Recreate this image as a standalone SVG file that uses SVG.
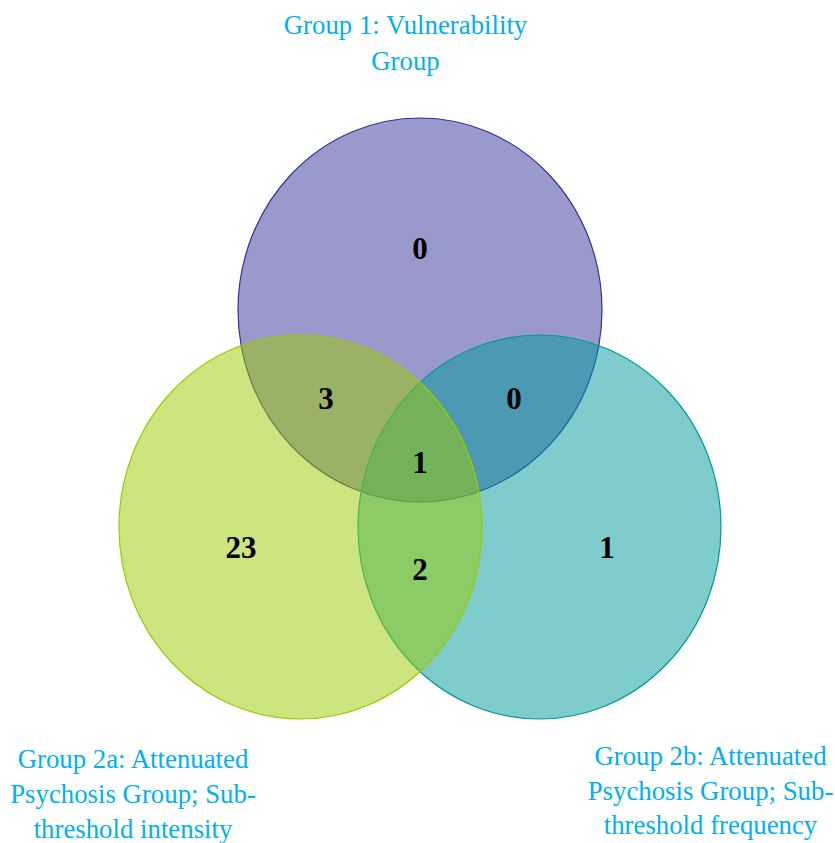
<svg xmlns="http://www.w3.org/2000/svg" width="835" height="843" viewBox="0 0 835 843">
<style>
.lbl{font-family:"Liberation Serif","Times New Roman",serif;font-size:26.8px;fill:#00b0f0;text-anchor:middle}
.num{font-family:"Liberation Serif","Times New Roman",serif;font-size:31px;font-weight:bold;fill:#000;text-anchor:middle}
.set{stroke-width:1.2}
</style>
<rect width="835" height="843" fill="#fff"/>
<g id="set-group1"><ellipse class="set" cx="420" cy="310" rx="182" ry="192" fill="#333399" fill-opacity="0.5" stroke="#333399"/></g>
<g id="set-group2b"><ellipse class="set" cx="539.5" cy="527" rx="181.5" ry="192" fill="#009999" fill-opacity="0.5" stroke="#009999"/></g>
<g id="set-group2a"><ellipse class="set" cx="300.5" cy="527" rx="181.5" ry="192" fill="#99cc00" fill-opacity="0.5" stroke="#99cc00"/></g>
<g id="connectors"></g>
<g id="labels">
<text class="lbl" x="405.5" y="34">Group 1: Vulnerability</text>
<text class="lbl" x="405.5" y="70">Group</text>
<text class="lbl" x="133" y="768">Group 2a: Attenuated</text>
<text class="lbl" x="133" y="803">Psychosis Group; Sub-</text>
<text class="lbl" x="133" y="838">threshold intensity</text>
<text class="lbl" x="710.5" y="765">Group 2b: Attenuated</text>
<text class="lbl" x="710.5" y="800">Psychosis Group; Sub-</text>
<text class="lbl" x="710.5" y="834">threshold frequency</text>
</g>
<g id="counts">
<text class="num" x="420" y="259">0</text>
<text class="num" x="326" y="409">3</text>
<text class="num" x="514" y="409">0</text>
<text class="num" x="420" y="473">1</text>
<text class="num" x="241" y="558">23</text>
<text class="num" x="420" y="580">2</text>
<text class="num" x="607" y="558">1</text>
</g>
</svg>
